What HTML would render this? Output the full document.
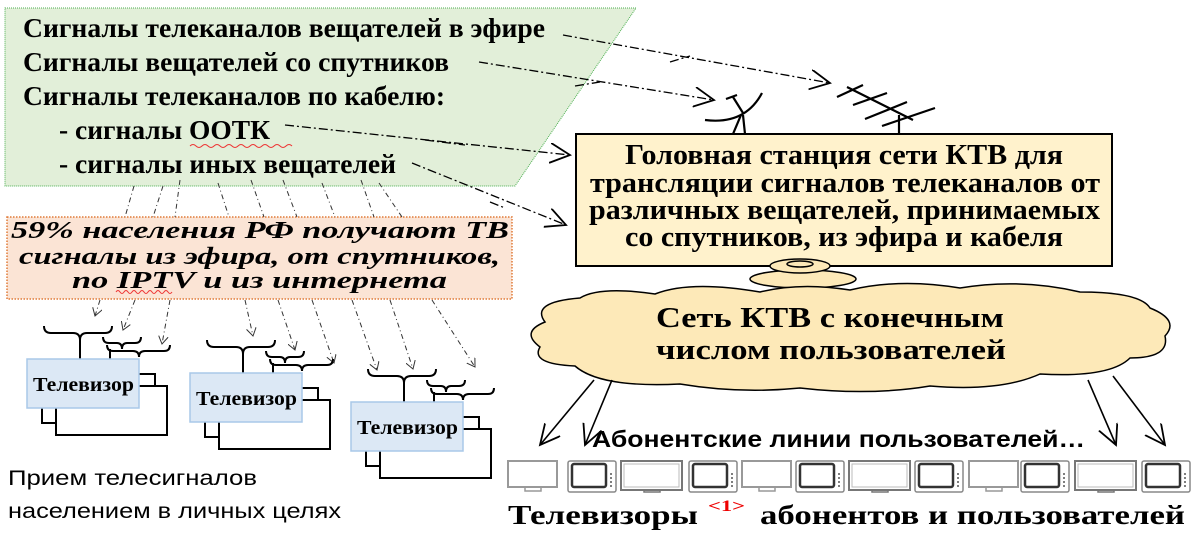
<!DOCTYPE html>
<html><head><meta charset="utf-8"><style>
html,body{margin:0;padding:0;background:#fff;width:1200px;height:537px;overflow:hidden}
svg{display:block}
.s{font-family:"Liberation Serif",serif;font-weight:bold}
.a{font-family:"Liberation Sans",sans-serif}
</style></head><body>
<svg width="1200" height="537" viewBox="0 0 1200 537" xmlns="http://www.w3.org/2000/svg">
<defs>
<marker id="ar" markerWidth="22" markerHeight="22" refX="20" refY="10" orient="auto" markerUnits="userSpaceOnUse"><path d="M0,0 L20,10 L0,20" fill="none" stroke="#000" stroke-width="1.8"/></marker>
<marker id="ar2" markerWidth="10" markerHeight="10" refX="8" refY="5" orient="auto" markerUnits="userSpaceOnUse"><path d="M0,0 L8,5 L0,10" fill="none" stroke="#333" stroke-width="1"/></marker>
<g id="tvg">
 <rect x="42" y="374" width="113" height="49" fill="#fff" stroke="#000" stroke-width="2"/>
 <rect x="56" y="386" width="111" height="49" fill="#fff" stroke="#000" stroke-width="2"/>
 <path d="M44,326 q0,7 7,7 h22 q7,0 7,7 q0,-7 7,-7 h18 q7,0 7,-7" fill="none" stroke="#000" stroke-width="2"/>
 <line x1="80" y1="340" x2="80" y2="360" stroke="#000" stroke-width="2"/>
 <path d="M103,337 q0,6 6,6 h8 q5,0 5,6 q0,-6 5,-6 h8 q6,0 6,-6" fill="none" stroke="#000" stroke-width="2"/>
 <path d="M107,345 q0,6 6,6 h20 q6,0 6,6 q0,-6 6,-6 h19 q6,0 6,-6" fill="none" stroke="#000" stroke-width="2"/>
 <line x1="110" y1="349" x2="110" y2="360" stroke="#000" stroke-width="2"/>
 <rect x="27" y="359" width="112" height="49" fill="#dce8f5" stroke="#a9c8e8" stroke-width="1.5"/>
 <text x="33" y="391" class="s" font-size="20" textLength="101" lengthAdjust="spacingAndGlyphs">Телевизор</text>
</g>
<g id="tvL">
 <rect x="1" y="1" width="49" height="26" fill="#fff" stroke="#999" stroke-width="2"/>
 <path d="M18,28 v3 h16 v-3" fill="none" stroke="#999" stroke-width="1.5"/>
</g>
<g id="tvD">
 <rect x="1" y="1" width="48" height="31" rx="2" fill="#fff" stroke="#888" stroke-width="1.5"/>
 <rect x="5" y="4" width="34" height="23" rx="2" fill="#fff" stroke="#333" stroke-width="2.5"/>
 <g fill="#555"><circle cx="44" cy="14" r="1"/><circle cx="44" cy="18" r="1"/><circle cx="44" cy="22" r="1"/><circle cx="44" cy="26" r="1"/></g>
</g>
<g id="tvW">
 <rect x="1" y="1" width="61" height="29" fill="#fff" stroke="#777" stroke-width="2"/>
 <rect x="4" y="4" width="55" height="23" fill="#fff" stroke="#bbb" stroke-width="1"/>
 <path d="M24,30 v2 h16 v-2" fill="none" stroke="#777" stroke-width="1.5"/>
</g>
</defs>

<polygon points="5,8 636,8 515,186 5,186" fill="#e2efd9" stroke="#4caf50" stroke-width="1" stroke-dasharray="1,1"/>
<g class="s" font-size="27">
<text x="23" y="37" textLength="522" lengthAdjust="spacingAndGlyphs">Сигналы телеканалов вещателей в эфире</text>
<text x="23" y="71" textLength="426" lengthAdjust="spacingAndGlyphs">Сигналы вещателей со спутников</text>
<text x="23" y="105" textLength="422" lengthAdjust="spacingAndGlyphs">Сигналы телеканалов по кабелю:</text>
<text x="59" y="139" textLength="211" lengthAdjust="spacingAndGlyphs">- сигналы ООТК</text>
<text x="59" y="173" textLength="337" lengthAdjust="spacingAndGlyphs">- сигналы иных вещателей</text>
</g>
<path d="M190,146 q3,-3 6,0 t6,0 t6,0 t6,0 t6,0 t6,0 t6,0 t6,0 t6,0 t6,0 t6,0 t6,0 t6,0 t6,0 t6,0 t6,0 t6,0" fill="none" stroke="#e33" stroke-width="1"/>

<rect x="7" y="217" width="505" height="82" fill="#fbe4d5" stroke="#e07b39" stroke-width="1.5" stroke-dasharray="1.5,1.5"/>
<g class="s" font-size="24" font-style="italic">
<text x="11" y="238" textLength="498" lengthAdjust="spacingAndGlyphs">59% населения РФ получают ТВ</text>
<text x="19" y="264" textLength="481" lengthAdjust="spacingAndGlyphs">сигналы из эфира, от спутников,</text>
<text x="72" y="288" textLength="375" lengthAdjust="spacingAndGlyphs">по IPTV и из интернета</text>
</g>
<path d="M116,292 q2,-3 4,0 t4,0 t4,0 t4,0 t4,0 t4,0 t4,0 t4,0 t4,0 t4,0 t4,0 t4,0 t4,0 t4,0" fill="none" stroke="#e33" stroke-width="1"/>

<g fill="none" stroke="#000" stroke-width="1.3" stroke-dasharray="9,3,2,3">
<path d="M563,35 L830,83" marker-end="url(#ar)"/>
<path d="M479,62 L714,100" marker-end="url(#ar)"/>
<path d="M285,125 L570,155" marker-end="url(#ar)"/>
<path d="M412,163 L566,225" marker-end="url(#ar)"/>
<path d="M425,140 L465,145"/><path d="M490,202 L505,208"/>
<path d="M670,62 L690,56"/><path d="M575,86 L600,82"/>
</g>
<g fill="none" stroke="#333" stroke-width="1" stroke-dasharray="5,3,1,3">
<path d="M134,186 L125,217"/><path d="M163,186 L153,217"/><path d="M180,180 L175,217"/>
<path d="M218,183 L229,217"/><path d="M251,180 L264,217"/><path d="M283,180 L297,217"/>
<path d="M322,183 L335,217"/><path d="M361,180 L374,217"/><path d="M379,183 L402,217"/>
<path d="M100,300 L95,316" marker-end="url(#ar2)"/>
<path d="M135,300 L123,330" marker-end="url(#ar2)"/>
<path d="M170,300 L162,344" marker-end="url(#ar2)"/>
<path d="M245,300 L253,336" marker-end="url(#ar2)"/>
<path d="M278,300 L295,350" marker-end="url(#ar2)"/>
<path d="M312,300 L334,363" marker-end="url(#ar2)"/>
<path d="M352,300 L377,370" marker-end="url(#ar2)"/>
<path d="M390,300 L413,369" marker-end="url(#ar2)"/>
<path d="M432,300 L475,367" marker-end="url(#ar2)"/>
</g>

<use href="#tvg"/>
<use href="#tvg" x="163" y="14"/>
<use href="#tvg" x="324" y="43"/>

<text x="8" y="485" class="a" font-size="21" textLength="249" lengthAdjust="spacingAndGlyphs">Прием телесигналов</text>
<text x="8" y="518" class="a" font-size="21" textLength="333" lengthAdjust="spacingAndGlyphs">населением в личных целях</text>

<g fill="none" stroke="#000" stroke-width="2.2">
<path d="M705,120 Q745,125 762,93"/>
<path d="M726,99 L737,95 M733,97 L743,113 M741,115 L733,134 M743,115 L745,134"/>
<path d="M847,87 L913,120 M899,115 V134"/>
<path d="M837,97 L863,85 M853,105 L887,93 M865,119 L907,102 M882,126 L935,108"/>
</g>

<rect x="576" y="134" width="536" height="132" fill="#fff2cc" stroke="#000" stroke-width="2"/>
<g class="s" font-size="28">
<text x="625" y="164" textLength="438" lengthAdjust="spacingAndGlyphs">Головная станция сети КТВ для</text>
<text x="590" y="192" textLength="510" lengthAdjust="spacingAndGlyphs">трансляции сигналов телеканалов от</text>
<text x="589" y="219" textLength="511" lengthAdjust="spacingAndGlyphs">различных вещателей, принимаемых</text>
<text x="625" y="246" textLength="438" lengthAdjust="spacingAndGlyphs">со спутников, из эфира и кабеля</text>
</g>

<g fill="#fde9b8" stroke="#000" stroke-width="1.5">
<ellipse cx="803" cy="279" rx="53" ry="9"/>
<ellipse cx="800" cy="266" rx="30" ry="7"/>
<ellipse cx="800" cy="264" rx="13" ry="3" fill="none"/>
<path d="M545,322 Q530,302 580,298 Q600,286 655,294 Q690,280 760,292 Q800,282 850,290 Q900,278 960,288 Q1020,278 1080,292 Q1140,292 1150,308 Q1180,320 1165,336 Q1170,358 1130,358 Q1110,378 1040,374 Q1000,392 930,386 Q870,396 800,388 Q740,394 680,384 Q600,388 575,366 Q530,364 540,347 Q520,332 545,322 Z"/>
</g>
<g class="s" font-size="29">
<text x="656" y="327" textLength="348" lengthAdjust="spacingAndGlyphs">Сеть КТВ с конечным</text>
<text x="656" y="359" textLength="350" lengthAdjust="spacingAndGlyphs">числом пользователей</text>
</g>

<g stroke="#000" stroke-width="1.6" fill="none">
<path d="M594,380 L540,445" marker-end="url(#ar)"/>
<path d="M612,380 L585,445" marker-end="url(#ar)"/>
<path d="M1088,380 L1116,445" marker-end="url(#ar)"/>
<path d="M1113,376 L1165,445" marker-end="url(#ar)"/>
</g>
<text x="592" y="447" class="a" font-size="23" font-weight="bold" textLength="493" lengthAdjust="spacingAndGlyphs">Абонентские линии пользователей…</text>

<use href="#tvL" x="507" y="460"/>
<use href="#tvD" x="567" y="460"/>
<use href="#tvW" x="620" y="460"/>
<use href="#tvD" x="688" y="460"/>
<use href="#tvL" x="741" y="460"/>
<use href="#tvD" x="795" y="460"/>
<use href="#tvW" x="848" y="460"/>
<use href="#tvD" x="914" y="460"/>
<use href="#tvL" x="968" y="460"/>
<use href="#tvD" x="1020" y="460"/>
<use href="#tvW" x="1074" y="460"/>
<use href="#tvD" x="1141" y="460"/>

<g class="s" font-size="27">
<text x="508" y="524" textLength="190" lengthAdjust="spacingAndGlyphs">Телевизоры</text>
<text x="708" y="511" font-size="16" fill="#e00" textLength="37" lengthAdjust="spacingAndGlyphs">&lt;1&gt;</text>
<text x="760" y="524" textLength="425" lengthAdjust="spacingAndGlyphs">абонентов и пользователей</text>
</g>
</svg>
</body></html>
